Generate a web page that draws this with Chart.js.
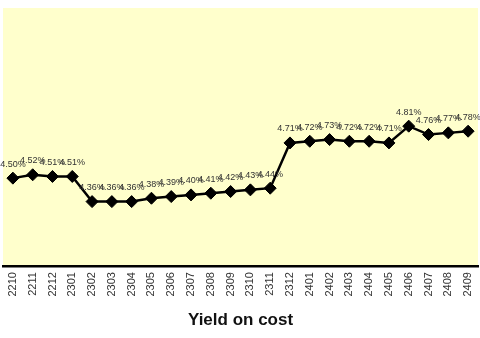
<!DOCTYPE html>
<html>
<head>
<meta charset="utf-8">
<script src="https://cdn.jsdelivr.net/npm/chart.js@4"></script>
<style>
html,body{margin:0;padding:0;background:#fff;}
#wrap{width:480px;height:338px;position:relative;}
</style>
</head>
<body>
<div id="wrap"><canvas id="c"></canvas></div>
<script>
const categories = ["2210","2211","2212","2301","2302","2303","2304","2305","2306","2307","2308","2309","2310","2311","2312","2401","2402","2403","2404","2405","2406","2407","2408","2409"];
const yieldValues = [4.50,4.52,4.51,4.51,4.36,4.36,4.36,4.38,4.39,4.40,4.41,4.42,4.43,4.44,4.71,4.72,4.73,4.72,4.72,4.71,4.81,4.76,4.77,4.78];
const chartTitle = "Yield on cost";

const bgPlugin = {
  id: 'bg',
  beforeDraw(chart) {
    const {ctx, chartArea} = chart;
    ctx.save();
    ctx.fillStyle = '#FFFFCC';
    ctx.fillRect(chartArea.left, chartArea.top, chartArea.right - chartArea.left, chartArea.bottom - chartArea.top);
    ctx.restore();
  }
};
const labelPlugin = {
  id: 'vlabels',
  afterDatasetsDraw(chart) {
    const {ctx} = chart;
    const meta = chart.getDatasetMeta(0);
    const data = chart.data.datasets[0].data;
    ctx.save();
    ctx.font = '9px "Liberation Sans", Arial, sans-serif';
    ctx.fillStyle = '#333333';
    ctx.textAlign = 'center';
    ctx.textBaseline = 'middle';
    meta.data.forEach((pt, i) => {
      ctx.fillText(data[i].toFixed(2) + '%', pt.x, pt.y - 14);
    });
    ctx.restore();
  }
};

new Chart(document.getElementById('c'), {
  type: 'line',
  data: {
    labels: categories,
    datasets: [{
      data: yieldValues,
      borderColor: '#000',
      borderWidth: 2.5,
      backgroundColor: '#000',
      pointStyle: 'rectRot',
      pointRadius: 6,
      pointBackgroundColor: '#000',
      pointBorderColor: '#000',
      pointBorderWidth: 1,
      tension: 0,
      fill: false,
      clip: false
    }]
  },
  options: {
    responsive: true,
    maintainAspectRatio: false,
    animation: false,
    layout: { autoPadding: false, padding: { top: 8, left: 3, right: 2, bottom: 7 } },
    plugins: { legend: { display: false }, tooltip: { enabled: false } },
    scales: {
      x: {
        offset: true,
        afterFit(scale) { scale.paddingLeft = 0; scale.paddingRight = 0; },
        grid: { display: false, drawTicks: false },
        border: { display: true, color: '#000', width: 2.5 },
        ticks: {
          minRotation: 90, maxRotation: 90, autoSkip: false, padding: 6,
          color: '#333', font: { family: '"Liberation Sans", Arial, sans-serif', size: 11 }
        },
        title: {
          display: true, text: chartTitle, color: '#111',
          font: { family: '"Liberation Sans", Arial, sans-serif', size: 17, weight: 'bold' },
          padding: { top: 8, bottom: 0 }
        }
      },
      y: { display: false, min: 3.975, max: 5.515 }
    }
  },
  plugins: [bgPlugin, labelPlugin]
});
</script>
</body>
</html>
